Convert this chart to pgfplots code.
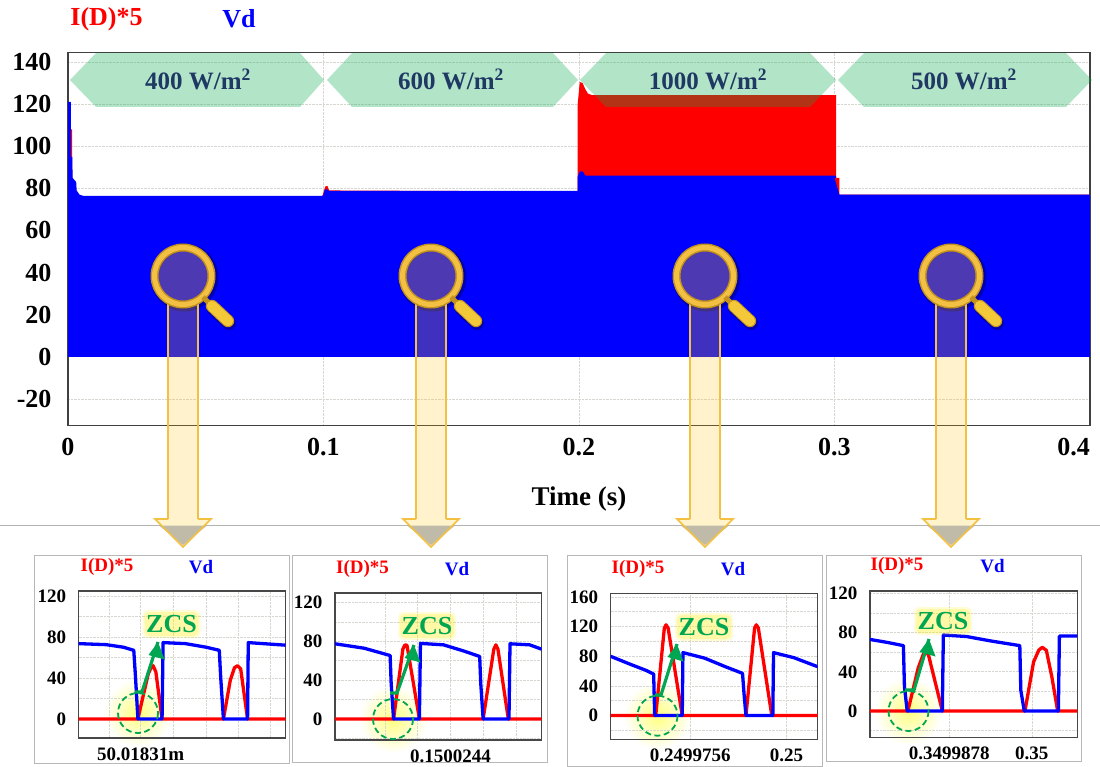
\documentclass[border=0pt]{standalone}
\usepackage{fontspec}
\setmainfont{Liberation Serif}
\usepackage{pgfplots}
\pgfplotsset{compat=1.18}
\definecolor{hexg}{RGB}{0,170,73}
\definecolor{navy}{RGB}{31,56,100}
\definecolor{gold}{RGB}{242,192,67}
\definecolor{golddk}{RGB}{196,146,30}
\definecolor{beam}{RGB}{255,192,0}
\definecolor{zcs}{RGB}{0,166,81}
\definecolor{gridc}{RGB}{215,215,210}
\definecolor{headg}{RGB}{191,187,168}
\newcommand\fs[1]{\fontsize{#1}{#1}\selectfont\bfseries}
\newcommand\hexa[6]{\fill[hexg,opacity=.3] (#1,80)--(#2,53)--(#3,53)--(#4,80)--(#3,107)--(#2,107)--cycle;
  \node[text=navy,font=\fs{25}] at (#5,79) {#6 W/m\textsuperscript{2}};}
\newcommand\magn[1]{%
  \draw[black,opacity=.3,line width=8pt] (#1+1.5,277.5) circle (30);
  \draw[black,opacity=.3,line width=14pt,line cap=round] (#1+30,308)--(#1+46,323);
  \fill[beam,opacity=.25] (#1-15,303) rectangle (#1+15,358);
  \draw[gold,line width=1.4pt] (#1-15,303)--(#1-15,358) (#1+15,303)--(#1+15,358);
  \fill[beam,opacity=.3] (#1,276) circle (28);
  \draw[golddk,line width=8pt] (#1,276) circle (28.5);
  \draw[gold,line width=5pt] (#1,276) circle (28.5);
  \draw[golddk,line width=5pt] (#1+20,297)--(#1+27,304);
  \draw[golddk,line width=12.5pt,line cap=round] (#1+29,306)--(#1+45,321);
  \draw[gold!85!yellow,line width=10.5pt,line cap=round] (#1+29,306)--(#1+45,321);
}
\newcommand\beamlow[1]{%
  \fill[beam,opacity=.2] (#1-15,358) rectangle (#1+15,519);
  \draw[gold,line width=1.4pt] (#1-15,358)--(#1-15,519);
  \draw[gold,line width=1.4pt] (#1+15,358)--(#1+15,519);
  \fill[beam!20] (#1-15,519)--(#1-28,519)--(#1,547)--(#1+28,519)--(#1+15,519)--cycle;
  \fill[headg] (#1-24,525.5)--(#1+24,525.5)--(#1,545)--cycle;
  \draw[gold,line width=1.6pt,line join=miter] (#1-15,519)--(#1-28,519)--(#1,547)--(#1+28,519)--(#1+15,519);
}
\newcommand\glow[2]{\shade[inner color=yellow!50,outer color=white] (#1,#2) circle (34);}
\newcommand\zcsmark[9]{%
  \draw[zcs,dash pattern=on 6pt off 3.5pt,line width=1.8pt] (#1,#2) circle (20);
  \fill[yellow,opacity=.16,rounded corners=5pt] (#8-29,#9-14) rectangle (#8+29,#9+14);
  \fill[yellow,opacity=.22,rounded corners=5pt] (#8-27,#9-12) rectangle (#8+27,#9+12);
  \draw[zcs,line width=3.2pt] (#3,#4)--(#5,#4)--(#6,#7);
  \fill[zcs] (#6,#7) -- ++(-9.5,13) -- ++(16,4.5) -- cycle;
  \node[text=zcs,font=\fs{26}] at (#8,#9) {ZCS};
}
\pgfplotsset{
 inset/.style={scale only axis,enlargelimits=false,axis line style={draw=black!72,line width=1.1pt},
   grid=both,major grid style={gridc,densely dotted,line width=.7pt},minor grid style={gridc,densely dotted,line width=.7pt},
   tick style={draw=none},minor tick length=0pt,major tick length=0pt,
   yticklabel style={font=\fs{19},anchor=east,xshift=-9pt},
   xticklabel style={font=\fs{19},anchor=north,yshift=-6pt},
   clip=true},
 redl/.style={draw=red,line width=3.3pt,line join=round},
 bluel/.style={draw=blue,line width=3.3pt,line join=round},
}
\begin{document}
\begin{tikzpicture}[x=1pt,y=-1pt]
\useasboundingbox (0,0) rectangle (1100,767);
\fill[white] (0,0) rectangle (1100,767);
\node[text=red,font=\fs{26},anchor=center] at (106.5,19) {I(D)*5};
\node[text=blue,font=\fs{26},anchor=center] at (239,19) {Vd};

\begin{axis}[at={(68pt,-425.5pt)},anchor=south west,scale only axis,width=1022pt,height=373pt,
  xmin=0,xmax=0.4,ymin=-32.6,ymax=144.5,clip=true,
  axis line style={draw=black!75,line width=1.3pt},
  grid=major,major grid style={gridc,densely dotted,line width=.8pt},
  tick style={draw=none},
  xtick={0,0.1,0.2,0.3,0.4},xticklabels={0,0.1,0.2,0.3,\llap{0.4}},
  ytick={-20,0,20,40,60,80,100,120,140},
  yticklabels={-20,0,20,40,60,80,100,120,140},
  yticklabel style={font=\fs{26},anchor=east,xshift=-13pt},
  xticklabel style={font=\fs{26},anchor=north,yshift=-9pt},
  xlabel={Time (s)},
  xlabel style={font=\fs{27},yshift=-24pt},
]
\addplot[fill=red,draw=none] coordinates {
 (0,0)(0.0011,0)(0.0011,108)(0.0016,108)(0.0016,85)(0.0018,76)(0.0995,76)(0.1002,79)(0.1008,81)(0.1016,81)(0.1022,79)(0.1995,78.5)
 (0.1995,120)(0.2003,130.5)(0.2014,130)(0.2025,127)(0.2035,125)(0.205,124.3)(0.2999,124.3)
 (0.3006,124.3)(0.3006,85)(0.3019,85)(0.3019,77)(0.4,77)(0.4,0)};
\addplot[fill=blue,draw=none] coordinates {
 (0,0)(0,121)(0.0011,121)(0.0011,95)(0.0017,95)(0.0018,85)(0.0032,83)(0.0034,79)(0.0045,77)(0.006,76.4)(0.0995,76.4)
 (0.1,77)(0.1005,79.4)(0.1012,79.6)(0.1022,78.8)(0.1995,78.8)(0.1995,85.5)(0.2003,88)(0.2015,88)(0.2025,86)
 (0.3006,86)(0.3006,85)(0.3,85)(0.3019,77)(0.4,77)(0.4,0)};
\end{axis}

\hexa{70}{96}{300}{324}{198}{400}
\hexa{327}{352}{553}{578}{451}{600}
\hexa{580}{606}{810}{836}{708}{1000}
\hexa{838}{864}{1066}{1092}{964}{500}

\magn{183}\magn{431}\magn{705}\magn{951}
\draw[black!30,line width=.9pt] (0,525) -- (1100,525);
\beamlow{183}\beamlow{431}\beamlow{705}\beamlow{951}

% inset frames
\draw[black!28,line width=1pt] (34.5,555.5) rectangle (289,763);
\draw[black!28,line width=1pt] (292.7,555.5) rectangle (547.5,762);
\draw[black!28,line width=1pt] (567.6,555.5) rectangle (822.4,766.5);
\draw[black!28,line width=1pt] (826,555.5) rectangle (1081.7,761.5);
\glow{138}{713}\glow{393}{719}\glow{657.5}{715.7}\glow{908.5}{711}

\node[text=red,font=\fs{19}] at (107,567) {I(D)*5};
\node[text=blue,font=\fs{19}] at (201,567) {Vd};
\node[text=red,font=\fs{19}] at (362.6,569) {I(D)*5};
\node[text=blue,font=\fs{19}] at (457,569) {Vd};
\node[text=red,font=\fs{19}] at (638,569) {I(D)*5};
\node[text=blue,font=\fs{19}] at (733,569) {Vd};
\node[text=red,font=\fs{19}] at (897,566) {I(D)*5};
\node[text=blue,font=\fs{19}] at (992.5,566) {Vd};

% inset 1
\begin{axis}[inset,at={(78.6pt,-738pt)},anchor=south west,width=206.9pt,height=147pt,
  xmin=170,xmax=770,ymin=-18.5,ymax=124.8,
  ytick={0,40,80,120},yticklabels={0,40,80,120},minor ytick={-20,20,60,100},
  xtick={260,350,445,540,632,725},xticklabels={,50.01831m,,,,}]
\addplot[redl] coordinates {(170,0)(342,0)(350,12)(372,44)(380,50)(386,52)(394,46)(412,0)(590,0)(610,38)(622,50)(631,52)(640,49)(660,0)(770,0)};
\addplot[bluel] coordinates {(170,73.5)(250,72.5)(300,70)(330,67)(335,41)(342,0)(412,0)(415,74.5)(480,73.5)(540,70)(578,67)(582,41)(590,0)(660,0)(662,74.5)(770,72)};
\end{axis}
% inset 2
\begin{axis}[inset,at={(335pt,-740pt)},anchor=south west,width=206.7pt,height=147pt,
  xmin=915,xmax=1515,ymin=-21.7,ymax=130,
  ytick={0,40,80,120},yticklabels={0,40,80,120},minor ytick={-20,20,60,100},
  xtick={1060,1155,1250,1345,1440},xticklabels={,,0.1500244,,}]
\addplot[redl] coordinates {(915,0)(1085,0)(1112,72)(1118,76.5)(1124,76)(1160,0)(1345,0)(1376,72)(1382,76.5)(1388,72)(1418,0)(1515,0)};
\addplot[bluel] coordinates {(915,77.6)(1000,73)(1050,68)(1075,65.5)(1078,37)(1085,0)(1160,0)(1163,78)(1230,76.5)(1290,70)(1335,64.5)(1338,37)(1345,0)(1420,0)(1423,77.6)(1480,76.5)(1515,72)};
\end{axis}
% inset 3
\begin{axis}[inset,at={(610.6pt,-739.3pt)},anchor=south west,width=207pt,height=146pt,
  xmin=147,xmax=748,ymin=-32,ymax=165,
  ytick={0,40,80,120,160},yticklabels={0,40,80,120,160},minor ytick={-20,20,60,100,140},
  xtick={378,658},xticklabels={0.2499756,0.25}]
\addplot[redl] coordinates {(147,0)(278,0)(303,118)(308,122.5)(314,118)(355,0)(540,0)(565,118)(570,122.5)(576,118)(615,0)(748,0)};
\addplot[bluel] coordinates {(147,80)(200,70)(250,61)(272,56)(275,0)(355,0)(357,85)(420,77.5)(480,66)(530,57)(535,26)(540,0)(618,0)(620,85)(680,78)(748,66)};
\end{axis}
% inset 4
\begin{axis}[inset,at={(870pt,-737.7pt)},anchor=south west,width=207.3pt,height=146.7pt,
  xmin=900,xmax=1502,ymin=-27.2,ymax=122.4,
  ytick={0,40,80,120},yticklabels={0,40,80,120},minor ytick={-20,20,60,100},
  xtick={1130,1370},xticklabels={0.3499878,0.35}]
\addplot[redl] coordinates {(900,0)(1010,0)(1040,44)(1055,58)(1062,60.5)(1070,57)(1110,0)(1350,0)(1375,50)(1390,62)(1400,65)(1412,62)(1428,35)(1445,0)(1502,0)};
\addplot[bluel] coordinates {(900,73)(950,70)(997,66.7)(1000,25)(1008,0)(1110,0)(1113,77.5)(1180,76)(1250,71.5)(1335,66.7)(1338,21)(1348,0)(1447,0)(1450,76.5)(1502,76.5)};
\end{axis}

\zcsmark{138}{713}{135}{692}{142}{158}{642}{171.5}{624}
\zcsmark{393}{719}{390}{693}{397}{414}{645}{427}{626}
\zcsmark{657.5}{715.7}{655}{695}{661}{677}{644}{704}{627}
\zcsmark{908.5}{711}{905}{690}{914}{929}{639}{943}{621}
\end{tikzpicture}
\end{document}
